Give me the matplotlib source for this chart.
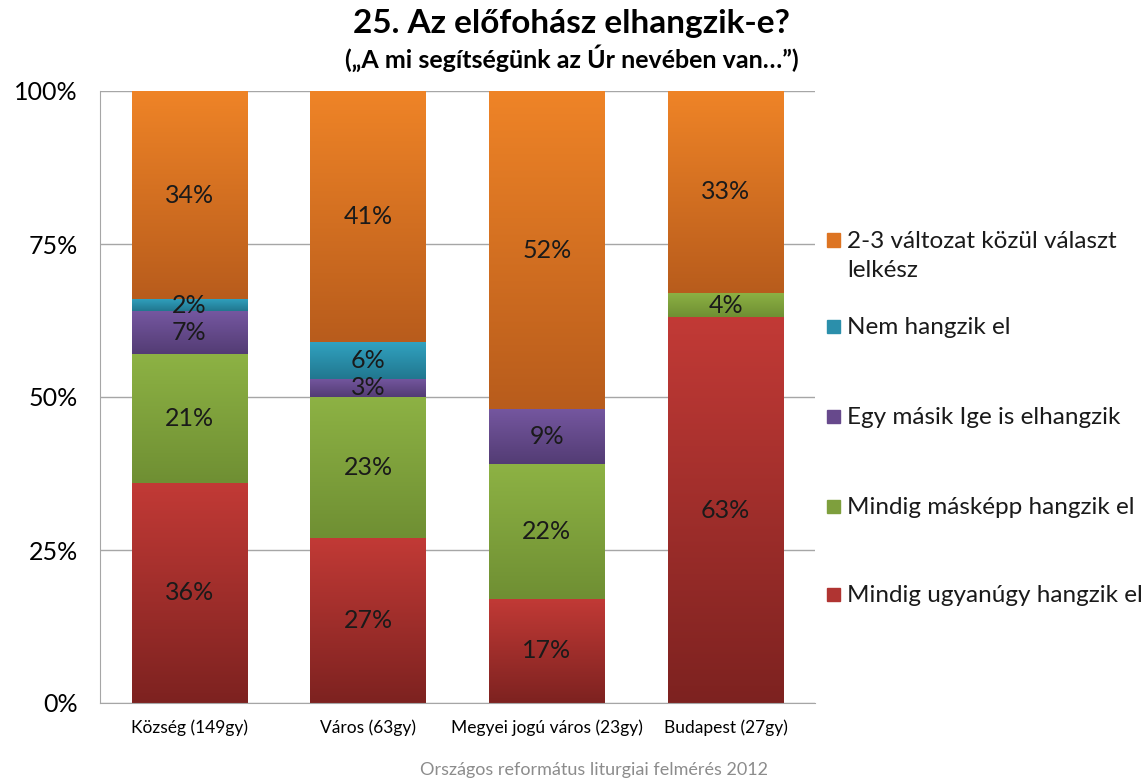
import numpy as np
import matplotlib.pyplot as plt
from matplotlib.colors import LinearSegmentedColormap

plt.rcParams['font.family'] = ['Lato', 'DejaVu Sans']

categories = ['Község (149gy)', 'Város (63gy)', 'Megyei jogú város (23gy)', 'Budapest (27gy)']
series_names = ['Mindig ugyanúgy hangzik el', 'Mindig másképp hangzik el',
                'Egy másik Ige is elhangzik', 'Nem hangzik el',
                '2-3 változat közül választ\nlelkész']
ugyanugy = [36, 27, 17, 63]
maskepp = [21, 23, 22, 4]
masik_ige = [7, 3, 9, 0]
nem = [2, 6, 0, 0]
valtozat = [34, 41, 52, 33]
yticks = [0, 25, 50, 75, 100]

# (top colour, bottom colour) of the vertical gradient per series
grad = [('#c23a36', '#7d2220'),
        ('#8db244', '#6f8f33'),
        ('#7557a0', '#533c74'),
        ('#31a2c0', '#21778f'),
        ('#ef8427', '#b85c1c')]
legend_col = ['#b03432', '#7e9f3d', '#67498c', '#2b8fab', '#dd7422']
# legend rows, pixel y of the first text line (bottom series first)
legend_y = [594, 506, 416, 326, 240]

W, H = 1148, 780
fig = plt.figure(figsize=(W / 100, H / 100), dpi=100)
ax = fig.add_axes([100 / W, 1 - 703 / H, 715 / W, 612 / H])

x = np.arange(len(categories))
data = [ugyanugy, maskepp, masik_ige, nem, valtozat]
bottom = np.zeros(len(categories))
grad_img = np.linspace(1, 0, 256).reshape(-1, 1)
for vals, (ctop, cbot) in zip(data, grad):
    vals = np.array(vals, dtype=float)
    bars = ax.bar(x, vals, 0.645, bottom=bottom, color='none', edgecolor='none', zorder=2)
    cmap = LinearSegmentedColormap.from_list('g', [cbot, ctop])
    for rect, v in zip(bars, vals):
        if v <= 0:
            continue
        x0, y0 = rect.get_x(), rect.get_y()
        w, h = rect.get_width(), rect.get_height()
        im = ax.imshow(grad_img, cmap=cmap, vmin=0, vmax=1, aspect='auto',
                       extent=(x0, x0 + w, y0, y0 + h), zorder=2, interpolation='bilinear')
        im.set_clip_path(rect)
        ax.text(x0 + w / 2, y0 + h / 2, f'{int(v)}%', ha='center', va='center',
                fontsize=18, color='#1a1a1a', zorder=3)
    bottom += vals

ax.set_xlim(-0.5, 3.5)
ax.set_ylim(0, 100)
ax.set_yticks(yticks)
ax.set_yticklabels([f'{t}%' for t in yticks], fontsize=18)
ax.set_xticks(x)
ax.set_xticklabels(categories, fontsize=12.5)
ax.tick_params(axis='y', length=0, pad=16)
ax.tick_params(axis='x', length=0, pad=12)
ax.yaxis.grid(True, color='#a6a6a6', linewidth=1, zorder=0)
ax.set_axisbelow(True)
for s in ['top', 'right']:
    ax.spines[s].set_visible(False)
for s in ['left', 'bottom']:
    ax.spines[s].set_color('#a6a6a6')

# legend drawn by hand so the rows keep the reference spacing
for name, lc, ly in zip(series_names, legend_col, legend_y):
    fy = 1 - ly / H
    fig.patches.append(plt.Rectangle((827 / W, fy - 6.5 / H), 13 / W, 13 / H,
                                     transform=fig.transFigure, color=lc))
    fig.text(847 / W, fy + 9 / H, name, ha='left', va='top', fontsize=17.5,
             color='#1a1a1a', linespacing=1.45)

fig.text(0.498, 1 - 9 / H, '25. Az előfohász elhangzik-e?', ha='center', va='top',
         fontsize=24, fontweight='bold')
fig.text(0.498, 1 - 44 / H, '(„A mi segítségünk az Úr nevében van…”)', ha='center', va='top',
         fontsize=18, fontweight='bold')
fig.text(594 / W, 1 - 778 / H, 'Országos református liturgiai felmérés 2012', ha='center',
         va='bottom', fontsize=13, color='#8c8c8c')

fig.savefig('out.png', dpi=100)
